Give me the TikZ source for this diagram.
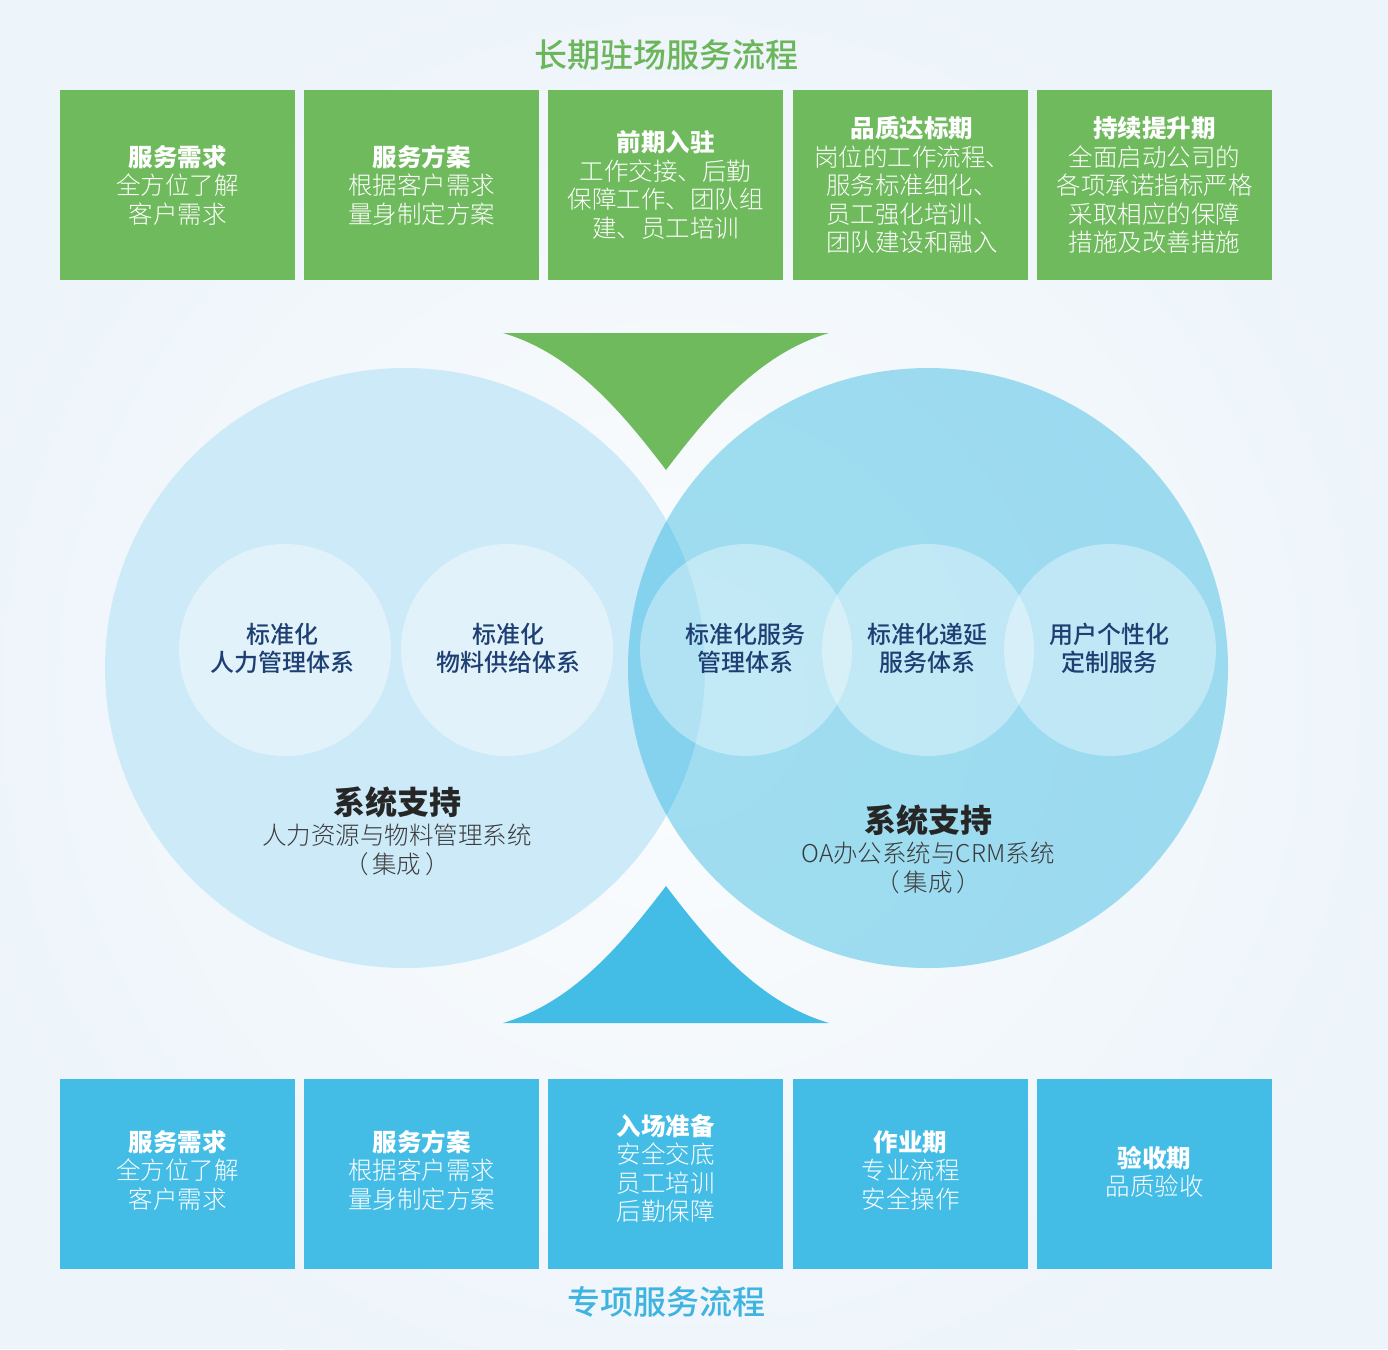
\documentclass[tikz,border=0pt]{standalone}
\usepackage{fontspec}
\newfontfamily\cjk{Noto Sans CJK SC}
\newfontfamily\cjklight{Noto Sans CJK SC Light}
\newfontfamily\cjkmed{Noto Sans CJK SC Medium}
\usetikzlibrary{positioning}
\definecolor{bgout}{HTML}{EDF4FA}
\definecolor{bgin}{HTML}{FBFDFE}
\definecolor{grn}{HTML}{70BA5E}
\definecolor{grntitle}{HTML}{6BB55B}
\definecolor{blu}{HTML}{43BDE6}
\definecolor{blutitle}{HTML}{3FB4E1}
\definecolor{leftc}{HTML}{CDEAF8}
\definecolor{rightc}{HTML}{08A9DC}
\definecolor{navy}{HTML}{1E3F73}
\definecolor{darktxt}{HTML}{262626}
\definecolor{subtxt}{HTML}{3A3A3A}
\newcommand{\ttl}[1]{{\cjk\bfseries #1}}
\tikzset{
  gbox/.style={fill=grn, minimum width=235pt, minimum height=190pt, inner sep=0pt},
  bbox/.style={fill=blu, minimum width=235pt, minimum height=190pt, inner sep=0pt},
  boxtxt/.style={text=white, align=center, font=\cjklight\fontsize{24.5}{28.5}\selectfont, inner sep=0pt},
  ctxt/.style={text=navy, align=center, font=\cjkmed\fontsize{24}{28}\selectfont, inner sep=0pt},
  bigtitle/.style={font=\cjk\bfseries\fontsize{32}{36}\selectfont, text=darktxt, inner sep=0pt},
  subline/.style={font=\cjklight\fontsize{24.5}{28.5}\selectfont, text=subtxt, align=center, inner sep=0pt},
  headtxt/.style={font=\cjkmed\fontsize{33}{36}\selectfont, inner sep=0pt},
  smallc/.style={fill=white, fill opacity=0.42},
}
\begin{document}
\begin{tikzpicture}[x=1pt,y=-1pt]
\useasboundingbox (0,0) rectangle (1388,1349);
% background
\fill[bgout] (0,0) rectangle (1388,1349);
\shade[inner color=bgin, outer color=bgout] (680,700) circle (760);
% big circles
\fill[leftc] (405,668) circle (300);
\fill[rightc, fill opacity=0.37] (928,668) circle (300);
% small circles
\fill[smallc] (285,650) circle (106);
\fill[smallc] (507,650) circle (106);
\fill[smallc, fill opacity=0.36] (746,650) circle (106);
\fill[smallc, fill opacity=0.36] (928,650) circle (106);
\fill[smallc, fill opacity=0.36] (1110,650) circle (106);
% triangles
\fill[grn] (503,333) -- (829,333) .. controls (759.3,353.4) and (709.9,412.2) .. (666,470) .. controls (622.1,412.2) and (572.7,353.4) .. (503,333) -- cycle;
\fill[blu] (503,1023) -- (829,1023) .. controls (759.3,1002.6) and (709.9,943.8) .. (666,886) .. controls (622.1,943.8) and (572.7,1002.6) .. (503,1023) -- cycle;
% titles
\node[headtxt, text=grntitle] (ttop) at (666,55) {长期驻场服务流程};
\node[headtxt, text=blutitle] (tbot) at (666,1302) {专项服务流程};
% top boxes
\node[gbox] (g1) at (177.5,185) {};
\node[gbox] (g2) at (421.5,185) {};
\node[gbox] (g3) at (665.5,185) {};
\node[gbox] (g4) at (910.5,185) {};
\node[gbox] (g5) at (1154.5,185) {};
\node[boxtxt] (g1t) at (177.5,185) {\ttl{服务需求}\\全方位了解\\客户需求};
\node[boxtxt] (g2t) at (421.5,185) {\ttl{服务方案}\\根据客户需求\\量身制定方案};
\node[boxtxt] (g3t) at (665.5,185) {\ttl{前期入驻}\\工作交接、后勤\\保障工作、团队组\\建、员工培训};
\node[boxtxt] (g4t) at (912,185) {\ttl{品质达标期}\\岗位的工作流程、\\服务标准细化、\\员工强化培训、\\团队建设和融入};
\node[boxtxt] (g5t) at (1154.5,185) {\ttl{持续提升期}\\全面启动公司的\\各项承诺指标严格\\采取相应的保障\\措施及改善措施};
% bottom boxes
\node[bbox] (b1) at (177.5,1174) {};
\node[bbox] (b2) at (421.5,1174) {};
\node[bbox] (b3) at (665.5,1174) {};
\node[bbox] (b4) at (910.5,1174) {};
\node[bbox] (b5) at (1154.5,1174) {};
\node[boxtxt] (b1t) at (177.5,1170) {\ttl{服务需求}\\全方位了解\\客户需求};
\node[boxtxt] (b2t) at (421.5,1170) {\ttl{服务方案}\\根据客户需求\\量身制定方案};
\node[boxtxt] (b3t) at (665.5,1168.5) {\ttl{入场准备}\\安全交底\\员工培训\\后勤保障};
\node[boxtxt] (b4t) at (910.5,1170) {\ttl{作业期}\\专业流程\\安全操作};
\node[boxtxt] (b5t) at (1154.5,1172) {\ttl{验收期}\\品质验收};
% circle labels
\node[ctxt] (c1) at (282,648) {标准化\\人力管理体系};
\node[ctxt] (c2) at (508,648) {标准化\\物料供给体系};
\node[ctxt] (c3) at (745,648) {标准化服务\\管理体系};
\node[ctxt] (c4) at (927,648) {标准化递延\\服务体系};
\node[ctxt] (c5) at (1109,648) {用户个性化\\定制服务};
% system support
\node[bigtitle] (s1) at (397,802) {系统支持};
\node[subline] (s1a) at (397,850) {人力资源与物料管理系统\\（\hspace{4pt}集成\hspace{4pt}）};
\node[bigtitle] (s2) at (928,820) {系统支持};
\node[subline] (s2a) at (928,868) {OA办公系统与CRM系统\\（\hspace{4pt}集成\hspace{4pt}）};
\end{tikzpicture}
\end{document}
